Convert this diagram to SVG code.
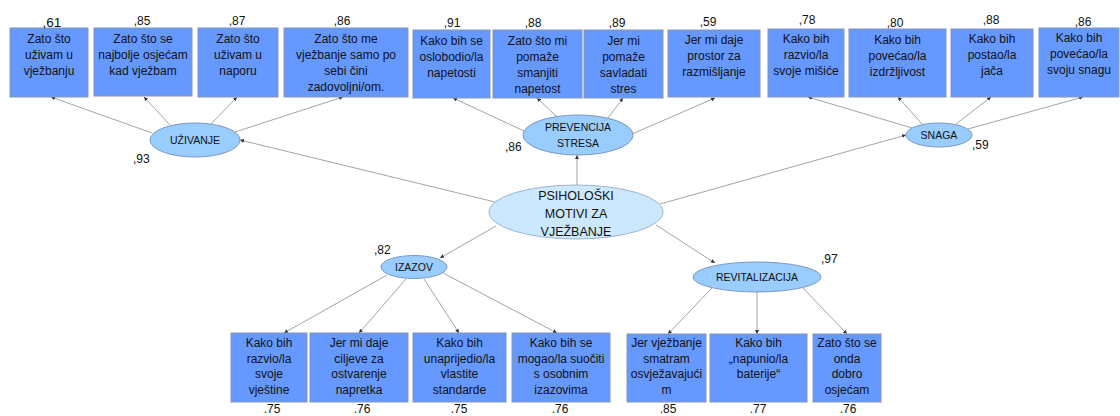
<svg xmlns="http://www.w3.org/2000/svg" width="1120" height="416" viewBox="0 0 1120 416">
<style>
text{font-family:"Liberation Sans",Arial,sans-serif;fill:#111;}
.box{fill:#6699ff;stroke:#8496b4;stroke-width:1;}
.bt{font-size:12px;text-anchor:middle;}
.sub{fill:#99ccff;stroke:#7b97bf;stroke-width:1;}
.st{font-size:10.5px;text-anchor:middle;}
.main{fill:#cce8ff;stroke:#9fb4cc;stroke-width:1;}
.mt{font-size:12.5px;text-anchor:middle;}
.num{font-size:12px;text-anchor:middle;}
.lbl{font-size:12px;}
#connectors line{stroke:#8c8c8c;stroke-width:0.8;marker-end:url(#ah);}
</style>
<defs>
<marker id="ah" viewBox="0 0 10 10" refX="10" refY="5" markerWidth="4" markerHeight="4" markerUnits="userSpaceOnUse" orient="auto">
<path d="M0,0 L10,5 L0,10 z" fill="#333"/>
</marker>
</defs>
<rect width="1120" height="416" fill="#fff"/>

<g id="connectors">
<line x1="152" y1="133" x2="51" y2="97"/>
<line x1="170" y1="125" x2="144" y2="97"/>
<line x1="211" y1="124" x2="237" y2="97"/>
<line x1="235" y1="132" x2="343" y2="97"/>
<line x1="495" y1="202" x2="240" y2="140"/>
<line x1="524" y1="131" x2="453" y2="98"/>
<line x1="557" y1="117" x2="537" y2="98"/>
<line x1="608" y1="118" x2="623" y2="98"/>
<line x1="632" y1="134" x2="715" y2="98"/>
<line x1="577" y1="186" x2="577" y2="155"/>
<line x1="912" y1="128" x2="808" y2="97"/>
<line x1="922" y1="124" x2="898" y2="97"/>
<line x1="956" y1="124" x2="991" y2="97"/>
<line x1="968" y1="129" x2="1083" y2="97"/>
<line x1="660" y1="204" x2="906" y2="135"/>
<line x1="496" y1="226" x2="440" y2="258"/>
<line x1="387" y1="275" x2="284" y2="333"/>
<line x1="406" y1="279" x2="359" y2="333"/>
<line x1="424" y1="279" x2="459" y2="333"/>
<line x1="443" y1="273" x2="557" y2="333"/>
<line x1="656" y1="225" x2="715" y2="263"/>
<line x1="712" y1="288" x2="668" y2="334"/>
<line x1="757" y1="292" x2="757" y2="334"/>
<line x1="803" y1="288" x2="847" y2="334"/>
</g>

<g id="n-main">
<ellipse class="main" cx="576" cy="212" rx="87" ry="27"/>
<text class="mt" x="576" y="200">PSIHOLOŠKI</text>
<text class="mt" x="576" y="218">MOTIVI ZA</text>
<text class="mt" x="576" y="236">VJEŽBANJE</text>
</g>

<g id="n-uzivanje">
<ellipse class="sub" cx="195" cy="140" rx="45" ry="17"/>
<text class="st" x="195" y="144">UŽIVANJE</text>
<text class="lbl" x="133" y="163">,93</text>
</g>
<g id="n-prevencija">
<ellipse class="sub" cx="578" cy="135" rx="55" ry="20"/>
<text class="st" x="578" y="131">PREVENCIJA</text>
<text class="st" x="578" y="147">STRESA</text>
<text class="lbl" x="505" y="151">,86</text>
</g>
<g id="n-snaga">
<ellipse class="sub" cx="939" cy="135" rx="33" ry="12"/>
<text class="st" x="939" y="139">SNAGA</text>
<text class="lbl" x="972" y="149">,59</text>
</g>
<g id="n-izazov">
<ellipse class="sub" cx="414" cy="267" rx="33" ry="11.5"/>
<text class="st" x="414" y="271">IZAZOV</text>
<text class="lbl" x="374" y="254">,82</text>
</g>
<g id="n-revitalizacija">
<ellipse class="sub" cx="757" cy="277" rx="64" ry="15"/>
<text class="st" x="757" y="281">REVITALIZACIJA</text>
<text class="lbl" x="821" y="263">,97</text>
</g>

<g id="t1"><rect class="box" x="10" y="28" width="78" height="69"/>
<text class="bt" x="49" y="43"><tspan x="49">Zato što</tspan><tspan x="49" dy="16">uživam u</tspan><tspan x="49" dy="16">vježbanju</tspan></text>
<text class="num" x="52" y="27" style="font-size:13.5px">,61</text></g>
<g id="t2"><rect class="box" x="94" y="28" width="98" height="68"/>
<text class="bt" x="143" y="43"><tspan x="143">Zato što se</tspan><tspan x="143" dy="16">najbolje osjećam</tspan><tspan x="143" dy="16">kad vježbam</tspan></text>
<text class="num" x="142" y="25">,85</text></g>
<g id="t3"><rect class="box" x="198" y="28" width="80" height="69"/>
<text class="bt" x="238" y="43"><tspan x="238">Zato što</tspan><tspan x="238" dy="16">uživam u</tspan><tspan x="238" dy="16">naporu</tspan></text>
<text class="num" x="237" y="25">,87</text></g>
<g id="t4"><rect class="box" x="284" y="28" width="124" height="69"/>
<text class="bt" x="346" y="43"><tspan x="346">Zato što me</tspan><tspan x="346" dy="16">vježbanje samo po</tspan><tspan x="346" dy="16">sebi čini</tspan><tspan x="346" dy="16">zadovoljni/om.</tspan></text>
<text class="num" x="342" y="25">,86</text></g>
<g id="t5"><rect class="box" x="413" y="30" width="77" height="68"/>
<text class="bt" x="451.5" y="45"><tspan x="451.5">Kako bih se</tspan><tspan x="451.5" dy="16">oslobodio/la</tspan><tspan x="451.5" dy="16">napetosti</tspan></text>
<text class="num" x="452" y="27">,91</text></g>
<g id="t6"><rect class="box" x="493" y="30" width="89" height="68"/>
<text class="bt" x="537.5" y="45"><tspan x="537.5">Zato što mi</tspan><tspan x="537.5" dy="16">pomaže</tspan><tspan x="537.5" dy="16">smanjiti</tspan><tspan x="537.5" dy="16">napetost</tspan></text>
<text class="num" x="533" y="27">,88</text></g>
<g id="t7"><rect class="box" x="584" y="30" width="79" height="68"/>
<text class="bt" x="623.5" y="45"><tspan x="623.5">Jer mi</tspan><tspan x="623.5" dy="16">pomaže</tspan><tspan x="623.5" dy="16">savladati</tspan><tspan x="623.5" dy="16">stres</tspan></text>
<text class="num" x="617" y="27">,89</text></g>
<g id="t8"><rect class="box" x="668" y="30" width="92" height="67"/>
<text class="bt" x="714" y="44"><tspan x="714">Jer mi daje</tspan><tspan x="714" dy="16">prostor za</tspan><tspan x="714" dy="16">razmišljanje</tspan></text>
<text class="num" x="708" y="26">,59</text></g>
<g id="t9"><rect class="box" x="768" y="29" width="76" height="68"/>
<text class="bt" x="806" y="43"><tspan x="806">Kako bih</tspan><tspan x="806" dy="16">razvio/la</tspan><tspan x="806" dy="16">svoje mišiće</tspan></text>
<text class="num" x="807" y="24">,78</text></g>
<g id="t10"><rect class="box" x="849" y="29" width="97" height="68"/>
<text class="bt" x="897.5" y="44"><tspan x="897.5">Kako bih</tspan><tspan x="897.5" dy="16">povećao/la</tspan><tspan x="897.5" dy="16">izdržljivost</tspan></text>
<text class="num" x="895" y="27">,80</text></g>
<g id="t11"><rect class="box" x="951" y="29" width="82" height="68"/>
<text class="bt" x="992" y="43"><tspan x="992">Kako bih</tspan><tspan x="992" dy="16">postao/la</tspan><tspan x="992" dy="16">jača</tspan></text>
<text class="num" x="991" y="24">,88</text></g>
<g id="t12"><rect class="box" x="1039" y="28" width="80" height="69"/>
<text class="bt" x="1079" y="42"><tspan x="1079">Kako bih</tspan><tspan x="1079" dy="16">povećao/la</tspan><tspan x="1079" dy="16">svoju snagu</tspan></text>
<text class="num" x="1083" y="26">,86</text></g>

<g id="b1"><rect class="box" x="231" y="333" width="76" height="69"/>
<text class="bt" x="269" y="347"><tspan x="269">Kako bih</tspan><tspan x="269" dy="15.5">razvio/la</tspan><tspan x="269" dy="15.5">svoje</tspan><tspan x="269" dy="15.5">vještine</tspan></text>
<text class="num" x="272" y="413">.75</text></g>
<g id="b2"><rect class="box" x="310" y="333" width="98" height="69"/>
<text class="bt" x="359" y="347"><tspan x="359">Jer mi daje</tspan><tspan x="359" dy="15.5">ciljeve za</tspan><tspan x="359" dy="15.5">ostvarenje</tspan><tspan x="359" dy="15.5">napretka</tspan></text>
<text class="num" x="362" y="413">.76</text></g>
<g id="b3"><rect class="box" x="413" y="333" width="93" height="69"/>
<text class="bt" x="459.5" y="347"><tspan x="459.5">Kako bih</tspan><tspan x="459.5" dy="15.5">unaprijedio/la</tspan><tspan x="459.5" dy="15.5">vlastite</tspan><tspan x="459.5" dy="15.5">standarde</tspan></text>
<text class="num" x="459" y="413">.75</text></g>
<g id="b4"><rect class="box" x="512" y="333" width="98" height="69"/>
<text class="bt" x="561" y="347"><tspan x="561">Kako bih se</tspan><tspan x="561" dy="15.5">mogao/la suočiti</tspan><tspan x="561" dy="15.5">s osobnim</tspan><tspan x="561" dy="15.5">izazovima</tspan></text>
<text class="num" x="560" y="413">.76</text></g>
<g id="b5"><rect class="box" x="627" y="334" width="79" height="68"/>
<text class="bt" x="666.5" y="347"><tspan x="666.5">Jer vježbanje</tspan><tspan x="666.5" dy="15.5">smatram</tspan><tspan x="666.5" dy="15.5">osvježavajući</tspan><tspan x="666.5" dy="15.5">m</tspan></text>
<text class="num" x="668" y="413">.85</text></g>
<g id="b6"><rect class="box" x="710" y="334" width="97" height="68"/>
<text class="bt" x="758.5" y="347"><tspan x="758.5">Kako bih</tspan><tspan x="758.5" dy="15.5">„napunio/la</tspan><tspan x="758.5" dy="15.5">baterije“</tspan></text>
<text class="num" x="758" y="413">.77</text></g>
<g id="b7"><rect class="box" x="813" y="334" width="68" height="68"/>
<text class="bt" x="847" y="347"><tspan x="847">Zato što se</tspan><tspan x="847" dy="15.5">onda</tspan><tspan x="847" dy="15.5">dobro</tspan><tspan x="847" dy="15.5">osjećam</tspan></text>
<text class="num" x="848" y="413">.76</text></g>
</svg>
